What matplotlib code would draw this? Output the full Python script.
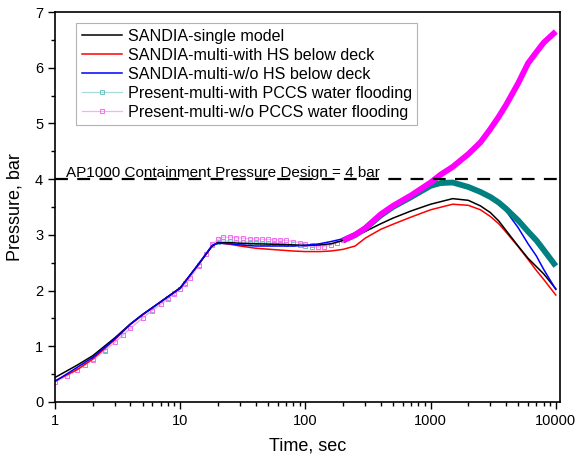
import matplotlib
matplotlib.use("Agg")
import matplotlib.pyplot as plt
import numpy as np
from matplotlib.ticker import LogLocator, MultipleLocator, FixedLocator, FixedFormatter

plt.rcParams['font.family'] = ['Liberation Sans', 'DejaVu Sans']

# SANDIA reference results
t_sandia = [1, 1.5, 2, 3, 4, 5, 7, 10, 14, 18, 20, 25, 30, 40, 60, 80, 100, 130, 160, 200,
            250, 300, 400, 500, 700, 1000, 1500, 2000, 2500, 3000, 3500, 4000, 5000, 6000,
            7000, 8000, 10000]
p_single = [0.44, 0.66, 0.83, 1.15, 1.40, 1.57, 1.80, 2.05, 2.47, 2.80, 2.86, 2.86, 2.85, 2.84,
            2.83, 2.82, 2.81, 2.82, 2.84, 2.90, 2.98, 3.06, 3.20, 3.30, 3.43, 3.55, 3.65, 3.62,
            3.52, 3.40, 3.25, 3.08, 2.80, 2.58, 2.43, 2.30, 2.03]
p_multi_hs = [0.38, 0.58, 0.77, 1.12, 1.39, 1.56, 1.80, 2.05, 2.47, 2.80, 2.86, 2.83, 2.80, 2.76,
              2.73, 2.71, 2.70, 2.70, 2.71, 2.74, 2.80, 2.94, 3.10, 3.19, 3.32, 3.45, 3.55, 3.53,
              3.45, 3.33, 3.20, 3.05, 2.79, 2.56, 2.36, 2.20, 1.92]
p_multi_nohs = [0.37, 0.62, 0.80, 1.13, 1.40, 1.57, 1.80, 2.04, 2.48, 2.81, 2.85, 2.84, 2.82, 2.80,
                2.80, 2.80, 2.81, 2.84, 2.88, 2.93, 3.00, 3.12, 3.36, 3.50, 3.68, 3.87, 3.93, 3.86,
                3.76, 3.68, 3.57, 3.43, 3.13, 2.84, 2.62, 2.38, 2.02]

# Present multi-compartment results
t_present = [1, 1.25, 1.5, 1.75, 2, 2.5, 3, 3.5, 4, 5, 6, 7, 8, 9, 10, 11, 12, 14, 16, 18, 20, 22,
             25, 28, 32, 36, 40, 45, 50, 56, 63, 70, 80, 90, 100, 112, 125, 140, 160, 180, 200,
             250, 300, 400, 500, 700, 1000, 1200, 1500, 2000, 2500, 3000, 3500, 4000, 5000, 6000,
             7000, 8000, 10000]
p_with_pccs = [0.36, 0.47, 0.57, 0.67, 0.77, 0.93, 1.08, 1.21, 1.33, 1.51, 1.65, 1.76, 1.86, 1.95,
               2.03, 2.13, 2.23, 2.45, 2.66, 2.82, 2.88, 2.89, 2.89, 2.88, 2.88, 2.87, 2.87, 2.86,
               2.86, 2.85, 2.85, 2.84, 2.83, 2.81, 2.80, 2.79, 2.78, 2.79, 2.82, 2.86, 2.90,
               3.00, 3.11, 3.35, 3.50, 3.68, 3.88, 3.93, 3.94, 3.86, 3.77, 3.68, 3.58, 3.47, 3.26,
               3.06, 2.90, 2.73, 2.44]
p_without_pccs = [0.36, 0.47, 0.57, 0.67, 0.76, 0.92, 1.07, 1.20, 1.32, 1.50, 1.64, 1.75, 1.85, 1.94,
                  2.02, 2.12, 2.22, 2.44, 2.66, 2.83, 2.92, 2.96, 2.96, 2.95, 2.94, 2.93, 2.93, 2.92,
                  2.92, 2.91, 2.91, 2.90, 2.88, 2.86, 2.84, 2.81, 2.79, 2.79, 2.82, 2.86, 2.90,
                  3.00, 3.12, 3.37, 3.52, 3.71, 3.94, 4.08, 4.22, 4.45, 4.66, 4.90, 5.12, 5.33, 5.72,
                  6.08, 6.28, 6.45, 6.65]

design_pressure = 4.0
design_label = "AP1000 Containment Pressure Design = 4 bar"
labels = ["SANDIA-single model",
          "SANDIA-multi-with HS below deck",
          "SANDIA-multi-w/o HS below deck",
          "Present-multi-with PCCS water flooding",
          "Present-multi-w/o PCCS water flooding"]

fig = plt.figure(figsize=(5.84, 4.55), dpi=100)
ax = fig.add_axes([0.0942, 0.1165, 0.8647, 0.8571])

tp = np.array(t_present)
pw = np.array(p_with_pccs)
pn = np.array(p_without_pccs)
early = tp <= 200
late = tp >= 200

# present results: marked early part, heavy line afterwards
h_with, = ax.plot(tp[early], pw[early], color='#a8dcdc', lw=0.9, marker='s', ms=3.2,
                  mfc='none', mec='#70c0c0', mew=0.7, zorder=1.5, label=labels[3])
h_without, = ax.plot(tp[early], pn[early], color='#ffaaff', lw=0.9, marker='s', ms=3.2,
                     mfc='none', mec='#f070f0', mew=0.7, zorder=1.6, label=labels[4])
ax.plot(tp[late], pw[late], color='#008080', lw=4.2, solid_capstyle='butt', zorder=3)
ax.plot(tp[late], pn[late], color='#ff00ff', lw=4.2, solid_capstyle='butt', zorder=4)

h_single, = ax.plot(t_sandia, p_single, color='black', lw=1.1, zorder=2.2, label=labels[0])
h_hs, = ax.plot(t_sandia, p_multi_hs, color='#ff0000', lw=1.1, zorder=2.1, label=labels[1])
h_nohs, = ax.plot(t_sandia, p_multi_nohs, color='#0000ff', lw=1.1, zorder=2.3, label=labels[2])

ax.axhline(design_pressure, color='black', lw=1.6, dashes=(5.8, 4.2), zorder=5)
ax.text(1.22, design_pressure + 0.04, design_label, fontsize=11, va='baseline', ha='left')

ax.set_xscale('log')
ax.set_xlim(1, 10800)
ax.set_ylim(0, 7)
ax.xaxis.set_major_locator(FixedLocator([1, 10, 100, 1000, 10000]))
ax.xaxis.set_major_formatter(FixedFormatter(['1', '10', '100', '1000', '10000']))
ax.xaxis.set_minor_locator(LogLocator(base=10, subs=np.arange(2, 10)))
ax.yaxis.set_major_locator(MultipleLocator(1))
ax.yaxis.set_minor_locator(MultipleLocator(0.5))
ax.tick_params(which='both', direction='out', top=False, right=False, labelsize=10.5, width=1)
ax.tick_params(which='major', length=5)
ax.tick_params(which='minor', length=3)
for sp in ax.spines.values():
    sp.set_linewidth(1.2)

ax.set_xlabel("Time, sec", fontsize=13, labelpad=7)
ax.set_ylabel("Pressure, bar", fontsize=13, labelpad=8)

leg = ax.legend(handles=[h_single, h_hs, h_nohs, h_with, h_without],
                loc='upper left', bbox_to_anchor=(0.0416, 0.972), borderaxespad=0,
                fontsize=11.6, frameon=True, fancybox=False, handlelength=2.5,
                handletextpad=0.35, labelspacing=0.25, borderpad=0.35, markerscale=0.8)
leg.get_frame().set_edgecolor('#a0a0a0')
leg.get_frame().set_linewidth(0.8)

fig.savefig("out.png", dpi=100)
